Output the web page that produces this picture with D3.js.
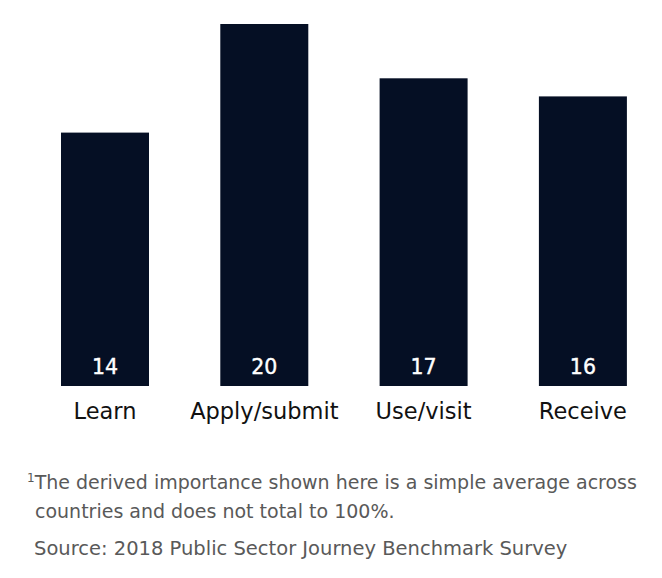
<!DOCTYPE html>
<html><head><meta charset="utf-8">
<script src="https://cdn.jsdelivr.net/npm/d3@7"></script>
<style>body{margin:0;background:#fff;}svg{display:block;font-family:"DejaVu Sans",sans-serif;}</style>
</head><body>
<svg id="c" width="662" height="578"></svg>
<script>
const categories = ["Learn", "Apply/submit", "Use/visit", "Receive"];
const values = [14, 20, 17, 16];
const footnoteLines = ["The derived importance shown here is a simple average across", "countries and does not total to 100%."];
const sourceText = "Source: 2018 Public Sector Journey Benchmark Survey";

const svg = d3.select("#c");
const x = d3.scaleBand().domain(categories).range([25.35, 662.55]).paddingInner(0.4476).paddingOuter(0.2238);
const y = d3.scaleLinear().domain([0, 20]).range([386, 24]);

svg.selectAll("rect.bar").data(values).join("rect").attr("class","bar")
  .attr("x", (d,i)=>x(categories[i])).attr("width", x.bandwidth())
  .attr("y", d=>y(d)).attr("height", d=>y(0)-y(d)).attr("fill", "#050f24");

svg.selectAll("text.val").data(values).join("text").attr("class","val")
  .attr("x",(d,i)=>x(categories[i])+x.bandwidth()/2).attr("y",374)
  .attr("text-anchor","middle").attr("fill","#fff").attr("font-size",20.5)
  .attr("stroke","#fff").attr("stroke-width",0.4).text(d=>d);

const xAxis = svg.append("g").attr("transform","translate(0,386)").call(d3.axisBottom(x).tickSize(0).tickPadding(17));
xAxis.select(".domain").remove();
xAxis.selectAll("text").attr("font-size",22.5).attr("fill","#111").attr("font-family","'DejaVu Sans', sans-serif");

const fs = 19;
const fn = svg.append("text").attr("x",27).attr("y",489).attr("fill","#595959").attr("font-size",fs);
fn.append("tspan").attr("font-size",12).attr("dy",-7).text("1");
fn.append("tspan").attr("dy",7).text(footnoteLines[0]);
svg.append("text").attr("x",35).attr("y",518).attr("fill","#595959").attr("font-size",fs).text(footnoteLines[1]);
svg.append("text").attr("x",34).attr("y",555).attr("fill","#595959").attr("font-size",19.5).text(sourceText);
</script>
</body></html>
